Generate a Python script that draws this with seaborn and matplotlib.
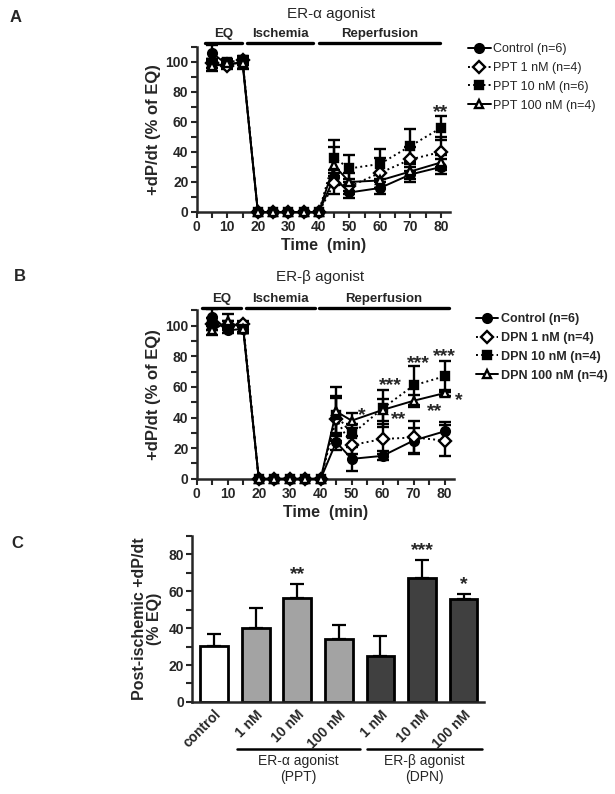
import numpy as np
import pandas as pd
import matplotlib
matplotlib.use("Agg")
import matplotlib.pyplot as plt
import seaborn as sns
from matplotlib.ticker import MultipleLocator

# ---------- DATA ----------
time_min = [5, 10, 15, 20, 25, 30, 35, 40, 45, 50, 60, 70, 80]

# panel A: ER-alpha agonist (PPT)
a_control = [106, 98, 100, 0, 0, 0, 0, 0, 23, 13, 16, 25, 30]
a_control_err = [5, 2, 2, 0, 0, 0, 0, 0, 5, 4, 4, 5, 5]
a_ppt1 = [99, 97, 101, 0, 0, 0, 0, 0, 19, 17, 26, 35, 40]
a_ppt1_err = [3, 2, 3, 0, 0, 0, 0, 0, 7, 5, 10, 8, 10]
a_ppt10 = [99, 100, 101, 0, 0, 0, 0, 0, 36, 29, 32, 44, 56]
a_ppt10_err = [3, 2, 2, 0, 0, 0, 0, 0, 12, 9, 10, 11, 8]
a_ppt100 = [97, 99, 99, 0, 0, 0, 0, 0, 31, 20, 21, 27, 33]
a_ppt100_err = [3, 2, 4, 0, 0, 0, 0, 0, 12, 6, 5, 5, 5]

# panel B: ER-beta agonist (DPN)
b_control = [106, 97, 98, 0, 0, 0, 0, 0, 24, 13, 15, 25, 31]
b_control_err = [5, 2, 2, 0, 0, 0, 0, 0, 5, 8, 3, 8, 6]
b_dpn1 = [101, 100, 101, 0, 0, 0, 0, 0, 39, 22, 26, 27, 25]
b_dpn1_err = [4, 3, 2, 0, 0, 0, 0, 0, 14, 6, 10, 11, 10]
b_dpn10 = [101, 100, 98, 0, 0, 0, 0, 0, 42, 29, 46, 61, 67]
b_dpn10_err = [4, 3, 3, 0, 0, 0, 0, 0, 12, 7, 12, 13, 10]
b_dpn100 = [97, 103, 98, 0, 0, 0, 0, 0, 44, 38, 45, 51, 56]
b_dpn100_err = [3, 5, 3, 0, 0, 0, 0, 0, 16, 5, 7, 4, 2]

# panel C: post-ischemic recovery
c_labels = ["control", "1 nM", "10 nM", "100 nM", "1 nM", "10 nM", "100 nM"]
c_values = [30.5, 40, 56.5, 34, 25, 67, 56]
c_err = [6.5, 11, 7.5, 7.5, 10.5, 10, 2.5]
c_colors = ["white", "#a3a3a3", "#a3a3a3", "#a3a3a3", "#404040", "#404040", "#404040"]
c_stars = ["", "", "**", "", "", "***", "*"]

# ---------- STYLE ----------
sns.set_style("ticks")
plt.rcParams["font.family"] = ["Liberation Sans", "DejaVu Sans"]
plt.rcParams["axes.linewidth"] = 1.8
for k in ["xtick.major.width", "ytick.major.width", "xtick.minor.width", "ytick.minor.width"]:
    plt.rcParams[k] = 1.5

fig = plt.figure(figsize=(6.15, 7.94), dpi=100)


def series_frame(values, err):
    return pd.DataFrame({"t": time_min, "v": values, "e": err})


def draw_time_panel(ax, series, title, title_x, legend_bold, legend_anchor, stars, phases):
    for label, values, err, marker, ls, face in series:
        df = series_frame(values, err)
        ax.errorbar(df["t"], df["v"], yerr=df["e"], fmt="none", ecolor="black",
                    elinewidth=1.7, capsize=4, capthick=1.7, zorder=2, clip_on=False)
        sns.lineplot(data=df, x="t", y="v", ax=ax, color="black", linestyle=ls,
                     linewidth=1.4, marker=marker, markersize=6.3,
                     markerfacecolor=face, markeredgecolor="black",
                     markeredgewidth=1.7, label=label, zorder=3, clip_on=False)

    ax.set_xlim(0, 83)
    ax.set_ylim(0, 110)
    ax.xaxis.set_major_locator(MultipleLocator(10))
    ax.xaxis.set_minor_locator(MultipleLocator(5))
    ax.yaxis.set_major_locator(MultipleLocator(20))
    ax.yaxis.set_minor_locator(MultipleLocator(10))
    ax.tick_params(which="both", length=4, labelsize=10, pad=2)
    for lab in ax.get_xticklabels() + ax.get_yticklabels():
        lab.set_fontweight("bold")
    sns.despine(ax=ax)
    ax.set_xlabel("Time  (min)", fontsize=11.5, fontweight="bold", labelpad=3)
    ax.set_ylabel("+dP/dt (% of EQ)", fontsize=12, fontweight="bold", labelpad=3)

    # phase bars above the plot
    for name, x0, x1, ybar, ytxt in phases:
        ax.plot([x0, x1], [ybar, ybar], color="black", linewidth=2.4, clip_on=False)
        ax.text((x0 + x1) / 2, ytxt, name, ha="center", va="center",
                fontsize=9.5, fontweight="bold")
    ax.text(title_x, 1.2, title, transform=ax.transAxes, ha="center", va="center",
            fontsize=11)

    for x, y, s in stars:
        ax.text(x, y, s, ha="center", va="center", fontsize=14, fontweight="bold")

    ax.legend(loc="upper left", bbox_to_anchor=legend_anchor,
              bbox_transform=fig.transFigure, frameon=False,
              handlelength=1.8, handletextpad=0.2, labelspacing=0.55,
              borderaxespad=0, borderpad=0,
              prop={"size": 9, "weight": "bold" if legend_bold else "normal"})


# ---------- PANEL A ----------
axA = fig.add_axes([0.320, 0.733, 0.412, 0.208])
series_a = [
    ("Control (n=6)", a_control, a_control_err, "o", "-", "black"),
    ("PPT 1 nM (n=4)", a_ppt1, a_ppt1_err, "D", ":", "white"),
    ("PPT 10 nM (n=6)", a_ppt10, a_ppt10_err, "s", ":", "black"),
    ("PPT 100 nM (n=4)", a_ppt100, a_ppt100_err, "^", "-", "white"),
]
draw_time_panel(axA, series_a, "ER-\u03b1 agonist", 0.53, False,
                (468 / 615, 1 - 43 / 794),
                [(80, 66, "**")],
                [("EQ", 2.8, 14.7, 112.4, 118.5), ("Ischemia", 16.4, 38.2, 112.4, 118.5),
                 ("Reperfusion", 40.1, 79.7, 112.4, 118.5)])

# ---------- PANEL B ----------
axB = fig.add_axes([0.320, 0.397, 0.418, 0.212])
series_b = [
    ("Control (n=6)", b_control, b_control_err, "o", "-", "black"),
    ("DPN 1 nM (n=4)", b_dpn1, b_dpn1_err, "D", ":", "white"),
    ("DPN 10 nM (n=4)", b_dpn10, b_dpn10_err, "s", ":", "black"),
    ("DPN 100 nM (n=4)", b_dpn100, b_dpn100_err, "^", "-", "white"),
]
draw_time_panel(axB, series_b, "ER-\u03b2 agonist", 0.48, True,
                (476 / 615, 1 - 313 / 794),
                [(53.3, 41, "*"), (62.4, 61, "***"), (65.3, 39, "**"),
                 (71.4, 75, "***"), (76.9, 44, "**"), (80, 80, "***"), (84.5, 51, "*")],
                [("EQ", 1.7, 14.2, 111.3, 117.4), ("Ischemia", 16, 38.2, 111.3, 117.4),
                 ("Reperfusion", 39.3, 81.3, 111.3, 117.4)])

# ---------- PANEL C ----------
axC = fig.add_axes([0.313, 0.116, 0.474, 0.209])
cdf = pd.DataFrame({"group": [f"g{i}" for i in range(len(c_values))],
                    "value": c_values})
sns.barplot(data=cdf, x="group", y="value", hue="group", palette=c_colors,
            legend=False, width=0.665, edgecolor="black", linewidth=2,
            ax=axC, zorder=2)
xpos = np.arange(len(c_values))
axC.errorbar(xpos, c_values, yerr=[np.zeros(len(c_err)), c_err], fmt="none",
             ecolor="black", elinewidth=1.6, capsize=5, capthick=1.6, zorder=1)
for x, v, e, s in zip(xpos, c_values, c_err, c_stars):
    if s:
        axC.text(x, v + e + 0.5, s, ha="center", va="bottom", fontsize=14,
                 fontweight="bold")
axC.set_xlim(-0.52, 6.49)
axC.set_ylim(0, 90)
axC.yaxis.set_major_locator(MultipleLocator(20))
axC.yaxis.set_minor_locator(MultipleLocator(10))
axC.tick_params(axis="y", which="both", length=4, labelsize=10, pad=2)
axC.tick_params(axis="x", length=0, labelsize=10, pad=4)
axC.set_xticks(xpos)
axC.set_xticklabels(c_labels, rotation=45, ha="right", rotation_mode="anchor",
                    fontweight="bold")
for lab in axC.get_yticklabels():
    lab.set_fontweight("bold")
sns.despine(ax=axC)
axC.set_xlabel("")
axC.set_ylabel("Post-ischemic +dP/dt\n(% EQ)", fontsize=11.5, fontweight="bold",
               labelpad=5, linespacing=1.0)

# group brackets under the tick labels
for x0, x1, text in [(0.55, 3.52, "ER-\u03b1 agonist\n(PPT)"),
                     (3.67, 6.43, "ER-\u03b2 agonist\n(DPN)")]:
    axC.plot([x0, x1], [-25.4, -25.4], color="black", linewidth=1.8, clip_on=False)
    axC.text((x0 + x1) / 2, -28.5, text, ha="center", va="top", fontsize=10,
             linespacing=1.1)

# ---------- PANEL LABELS ----------
fig.text(0.026, 0.978, "A", fontsize=12, fontweight="bold", va="center", ha="center")
fig.text(0.032, 0.652, "B", fontsize=12, fontweight="bold", va="center", ha="center")
fig.text(0.028, 0.316, "C", fontsize=12, fontweight="bold", va="center", ha="center")

fig.savefig("out.png", dpi=100, facecolor="white")
